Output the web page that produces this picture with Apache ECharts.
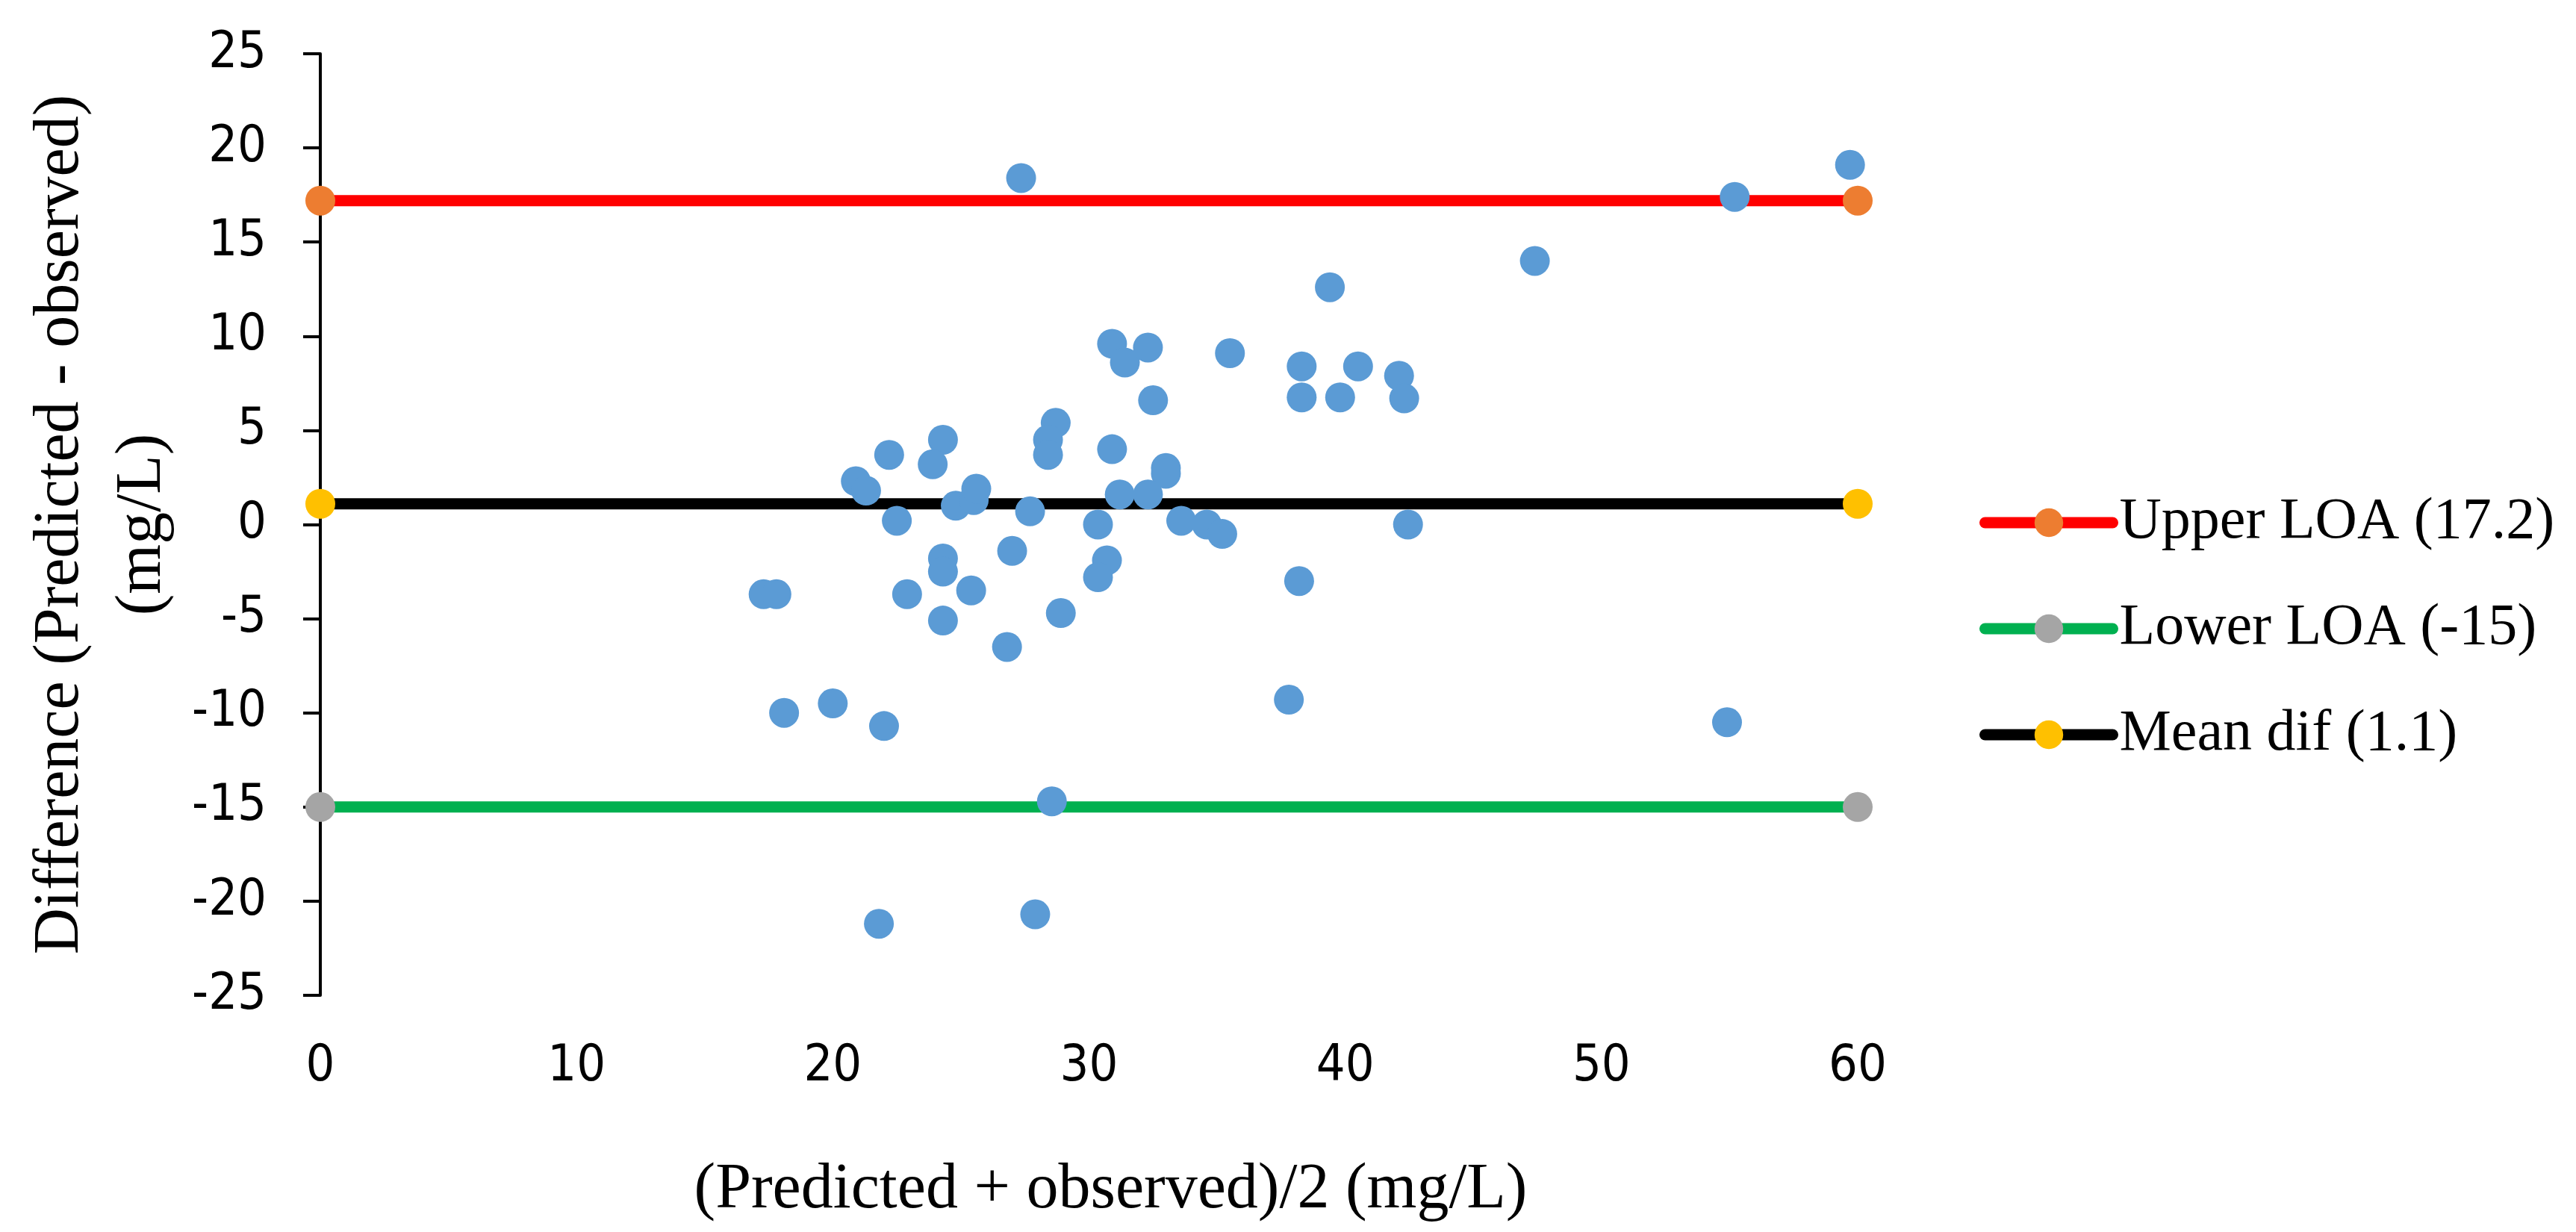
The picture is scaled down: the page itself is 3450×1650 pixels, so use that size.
<!DOCTYPE html>
<html>
<head>
<meta charset="utf-8">
<title>Bland-Altman plot</title>
<script src="https://cdn.jsdelivr.net/npm/echarts@6/dist/echarts.min.js"></script>
<style>
  html, body { margin: 0; padding: 0; background: #fff; }
  #main { width: 3450px; height: 1650px; }
</style>
</head>
<body>
<div id="main"></div>
<script>
// mean of predicted and observed (mg/L)
var avgValues = [
  17.3, 17.8, 18.1, 20.0, 22.0, 20.9, 21.3, 22.2, 22.5, 24.3,
  23.9, 22.9, 24.3, 24.3, 25.4, 24.3, 24.8, 25.5, 25.6, 27.7,
  27.0, 26.8, 28.9, 28.7, 28.4, 28.4, 30.9, 31.4, 32.3, 32.5,
  30.9, 33.0, 33.0, 31.2, 32.3, 30.35, 30.7, 30.35, 33.6, 34.6,
  35.2, 35.5, 38.3, 38.3, 40.5, 39.8, 42.1, 42.3, 42.45, 38.2,
  39.4, 47.4, 27.35, 55.2, 59.7, 54.9, 37.8, 28.55, 21.8, 27.9
];
// predicted - observed (mg/L)
var diffValues = [
  -3.7, -3.7, -10.0, -9.5, -10.7, 2.3, 1.8, 3.7, 0.2, 4.5,
  3.2, -3.7, -1.8, -2.5, -3.5, -5.1, 1.0, 1.3, 1.9, 0.7,
  -1.4, -6.5, -4.7, 5.4, 4.5, 3.7, 9.6, 8.6, 9.4, 6.6,
  4.0, 3.0, 2.7, 1.6, 1.6, 0.0, -1.9, -2.8, 0.2, 0.0,
  -0.5, 9.1, 8.4, 6.75, 8.4, 6.75, 7.9, 6.7, 0.0, -3.0,
  12.6, 14.0, 18.4, 17.4, 19.1, -10.5, -9.3, -14.7, -21.2, -20.7
];

var lineNames = ['Upper LOA (17.2)', 'Lower LOA (-15)', 'Mean dif (1.1)'];
var lineLevels = [17.2, -15, 1.1];
var lineEnds = [0, 60];
var lineColors = ['#ff0000', '#00b050', '#000000'];
var markerColors = ['#ed7d31', '#a5a5a5', '#ffc000'];

var xMin = 0, xMax = 60, xStep = 10;
var yMin = -25, yMax = 25, yStep = 5;

var myChart = echarts.init(document.getElementById('main'));

var serifFont = '"Liberation Serif", "DejaVu Serif", serif';
var tickFont = '"Liberation Sans Narrow", "DejaVu Sans Condensed", "Liberation Sans", sans-serif';

var series = lineNames.map(function (name, i) {
  return {
    name: name,
    type: 'line',
    clip: false,
    z: 2,
    symbol: 'circle',
    symbolSize: 40,
    itemStyle: { color: markerColors[i] },
    lineStyle: { color: lineColors[i], width: 15 },
    data: lineEnds.map(function (x) { return [x, lineLevels[i]]; })
  };
});

series.push({
  name: 'Difference',
  type: 'scatter',
  z: 3,
  symbolSize: 40,
  itemStyle: { color: '#5b9bd5', opacity: 1 },
  data: avgValues.map(function (x, i) { return [x, diffValues[i]]; })
});

var option = {
  backgroundColor: '#ffffff',
  animation: false,
  grid: {
    left: 429,
    top: 72,
    width: 2059,
    height: 1261
  },
  legend: {
    data: lineNames,
    orient: 'vertical',
    left: 2646,
    top: 653,
    itemWidth: 171,
    itemHeight: 48,
    itemGap: 58,
    lineStyle: { width: 15, cap: 'round' },
    textStyle: {
      fontFamily: serifFont,
      fontSize: 78,
      lineHeight: 84,
      color: '#000',
      padding: [0, 0, 0, 4]
    }
  },
  xAxis: {
    type: 'value',
    min: xMin,
    max: xMax,
    interval: xStep,
    name: '(Predicted + observed)/2 (mg/L)',
    nameLocation: 'middle',
    nameGap: 218,
    nameTextStyle: {
      fontFamily: serifFont,
      fontSize: 86,
      color: '#000',
      padding: [0, 0, 0, 58]
    },
    axisLine: { show: false },
    axisTick: { show: false },
    splitLine: { show: false },
    axisLabel: {
      margin: 62,
      fontFamily: tickFont,
      fontSize: 68,
      color: '#000'
    }
  },
  yAxis: {
    type: 'value',
    min: yMin,
    max: yMax,
    interval: yStep,
    name: 'Difference (Predicted - observed)\n(mg/L)',
    nameLocation: 'middle',
    nameGap: 182,
    nameTextStyle: {
      fontFamily: serifFont,
      fontSize: 86,
      lineHeight: 110,
      color: '#000'
    },
    axisLine: { show: true, onZero: false, lineStyle: { color: '#000', width: 4 } },
    axisTick: { show: true, inside: false, length: 23, lineStyle: { color: '#000', width: 4 } },
    splitLine: { show: false },
    axisLabel: {
      margin: 72,
      fontFamily: tickFont,
      fontSize: 68,
      color: '#000'
    }
  },
  series: series
};

myChart.setOption(option);
</script>
</body>
</html>
